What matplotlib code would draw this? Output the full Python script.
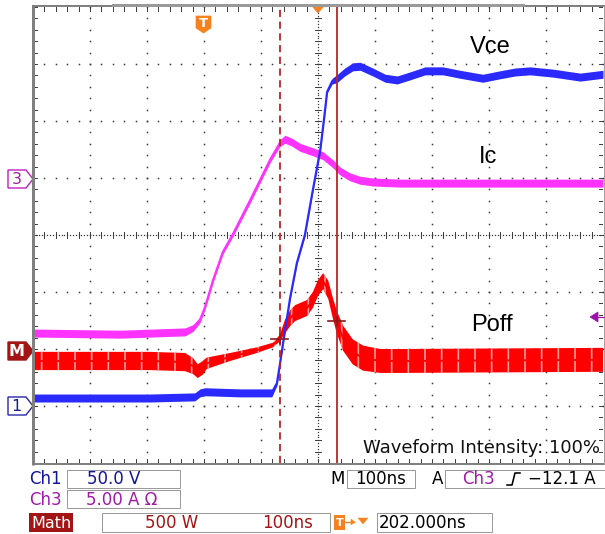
import numpy as np
import matplotlib
matplotlib.use("Agg")
import matplotlib.pyplot as plt
from matplotlib.patches import Polygon, Rectangle

# ---------------- data (screen divisions: x 0..10 div @100 ns/div, y 0..8 div) ----------------
vce_t = [0.00, 1.18, 2.05, 2.84, 2.93, 3.02, 3.63, 4.19, 4.28, 4.33, 4.39, 4.51, 4.63, 4.77,
         4.91, 5.04, 5.11, 5.16, 5.25, 5.33, 5.47, 5.61, 5.74, 5.96, 6.18, 6.39, 6.61, 6.88,
         7.19, 7.49, 7.89, 8.19, 8.46, 8.72, 9.12, 9.60, 10.0]
vce_v = [1.14, 1.14, 1.14, 1.16, 1.23, 1.25, 1.23, 1.23, 1.40, 1.72, 2.12, 2.89, 3.51, 4.00,
         4.79, 5.49, 6.07, 6.51, 6.70, 6.74, 6.86, 6.95, 6.96, 6.86, 6.75, 6.72, 6.79, 6.88,
         6.88, 6.82, 6.75, 6.81, 6.86, 6.88, 6.84, 6.77, 6.82]
vce_n = [0.07, 0.07, 0.07, 0.07, 0.07, 0.07, 0.07, 0.07, 0.04, 0.02, 0.02, 0.02, 0.02, 0.02,
         0.02, 0.02, 0.02, 0.02, 0.05, 0.07, 0.07, 0.07, 0.07, 0.07, 0.07, 0.07, 0.07, 0.07,
         0.07, 0.07, 0.07, 0.07, 0.07, 0.07, 0.07, 0.07, 0.07]

ic_t = [0.00, 1.53, 2.67, 2.81, 2.93, 3.02, 3.16, 3.33, 3.51, 3.81, 4.16, 4.33, 4.42, 4.54,
        4.68, 4.91, 5.09, 5.26, 5.39, 5.56, 5.74, 5.96, 6.44, 10.0]
ic_v = [2.28, 2.26, 2.30, 2.37, 2.51, 2.74, 3.21, 3.70, 4.02, 4.61, 5.32, 5.61, 5.68, 5.63,
        5.54, 5.46, 5.39, 5.25, 5.12, 5.02, 4.96, 4.93, 4.91, 4.91]
ic_n = [0.07, 0.07, 0.07, 0.06, 0.05, 0.04, 0.04, 0.04, 0.04, 0.05, 0.05, 0.06, 0.07, 0.07,
        0.07, 0.07, 0.07, 0.07, 0.07, 0.07, 0.07, 0.07, 0.07, 0.07]

poff_t = [0.00, 1.18, 2.05, 2.67, 2.81, 2.89, 2.98, 3.05, 3.46, 3.93, 4.21, 4.33, 4.42, 4.51,
          4.60, 4.81, 4.91, 5.00, 5.09, 5.18, 5.26, 5.33, 5.44, 5.61, 5.79, 6.09, 6.44, 10.0]
poff_v = [1.79, 1.79, 1.79, 1.77, 1.70, 1.61, 1.67, 1.75, 1.86, 1.98, 2.07, 2.19, 2.39, 2.54,
          2.63, 2.72, 2.86, 3.07, 3.19, 3.04, 2.72, 2.47, 2.19, 1.95, 1.84, 1.79, 1.79, 1.81]
poff_n = [0.16, 0.16, 0.16, 0.16, 0.14, 0.12, 0.12, 0.10, 0.07, 0.05, 0.04, 0.06, 0.12, 0.14,
          0.14, 0.14, 0.14, 0.14, 0.14, 0.16, 0.18, 0.20, 0.22, 0.22, 0.22, 0.21, 0.21, 0.21]

cursor_t = [4.33, 5.33]
cross_t = [4.33, 5.33]
cross_v = [2.18, 2.49]

trace_labels = ["Vce", "Ic", "Poff"]

# ---------------- figure ----------------
W, H = 605, 534
fig = plt.figure(figsize=(W / 100, H / 100), dpi=100)
fig.patch.set_facecolor("white")

L, R, T, B = 33, 603, 7, 463
ax = fig.add_axes([L / W, (H - B) / H, (R - L) / W, (B - T) / H])
ax.set_xlim(0, 10)
ax.set_ylim(0, 8)
ax.axis("off")

GRID = "#3a3a3a"
# major graticule dots
minor = np.arange(0, 8.001, 0.2)
for gx in range(1, 10):
    if gx == 5:
        continue
    ax.plot(np.full_like(minor, gx), minor, "s", ms=1.1, color=GRID, mew=0, zorder=1)
minor_x = np.arange(0, 10.001, 0.2)
for gy in range(1, 8):
    if gy == 4:
        continue
    ax.plot(minor_x, np.full_like(minor_x, gy), "s", ms=1.1, color=GRID, mew=0, zorder=1)
# center lines: dense dots + ticks
dense_y = np.arange(0, 8.001, 0.05)
dense_x = np.arange(0, 10.001, 0.05)
ax.plot(np.full_like(dense_y, 5), dense_y, "s", ms=0.9, color=GRID, mew=0, zorder=1)
ax.plot(dense_x, np.full_like(dense_x, 4), "s", ms=0.9, color=GRID, mew=0, zorder=1)
for yy in minor:
    ax.plot([4.94, 5.06], [yy, yy], color=GRID, lw=0.7, zorder=1)
for xx in minor_x:
    ax.plot([xx, xx], [3.95, 4.05], color=GRID, lw=0.7, zorder=1)
# border ticks
for yy in minor:
    ax.plot([0, 0.07], [yy, yy], color=GRID, lw=0.7, zorder=1)
    ax.plot([9.93, 10], [yy, yy], color=GRID, lw=0.7, zorder=1)
for xx in minor_x:
    ax.plot([xx, xx], [7.93, 8], color=GRID, lw=0.7, zorder=1)
    ax.plot([xx, xx], [0, 0.07], color=GRID, lw=0.7, zorder=1)

# traces
BLUE = "#2a2aff"
MAG = "#ff33ff"
RED = "#ff0000"
plt.rcParams["hatch.linewidth"] = 1.2

t = np.array(ic_t); v = np.array(ic_v); n = np.array(ic_n)
ax.fill_between(t, v - n, v + n, color=MAG, lw=0, zorder=3)
ax.plot(t, v, color=MAG, lw=1.6, zorder=3)

t = np.array(poff_t); v = np.array(poff_v); n = np.array(poff_n)
ax.fill_between(t, v - n, v + n, facecolor=RED, edgecolor="#ff9c9c", hatch="|", lw=0, zorder=3)
ax.plot(t, v, color=RED, lw=1.4, zorder=3)

t = np.array(vce_t); v = np.array(vce_v); n = np.array(vce_n)
ax.fill_between(t, v - n, v + n, color=BLUE, lw=0, zorder=4)
ax.plot(t, v, color=BLUE, lw=1.6, zorder=4)

# cursors
CUR = "#b5262a"
ax.axvline(cursor_t[0], color=CUR, lw=1.3, ls=(0, (4, 2.5)), zorder=5)
ax.axvline(cursor_t[1], color=CUR, lw=1.3, zorder=5)
for cx, cy in zip(cross_t, cross_v):
    ax.plot([cx - 0.15, cx + 0.15], [cy, cy], color="#8b1a1a", lw=1.2, zorder=6)
    ax.plot([cx, cx], [cy - 0.08, cy + 0.08], color="#8b1a1a", lw=1.2, zorder=6)

# trace labels
for lab, (lx, ly) in zip(trace_labels, [(8.02, 7.30), (7.98, 5.37), (8.05, 2.42)]):
    ax.text(lx, ly, lab, fontsize=17, family="Liberation Sans", ha="center", va="center", zorder=7)

# ---------------- overlay in pixel coordinates ----------------
ov = fig.add_axes([0, 0, 1, 1], zorder=10)
ov.set_xlim(0, W)
ov.set_ylim(H, 0)
ov.axis("off")
ov.patch.set_alpha(0)

BORDER = "#808080"
px = 0.72
ov.plot([L, L], [T - 1, B + 2], color=BORDER, lw=3 * px, solid_capstyle="butt")
ov.plot([L, 605], [B + 1, B + 1], color=BORDER, lw=2 * px)
ov.plot([L, 605], [T - 1, T - 1], color=BORDER, lw=2 * px)
ov.plot([113, 523], [T - 2, T - 2], color="#9a9a9a", lw=3 * px)
ov.plot([603.5, 603.5], [T - 1, B + 1], color="#a0a0a0", lw=1 * px)

# trigger T marker
ORANGE = "#f5821f"
ov.add_patch(Polygon([(196, 16), (211, 16), (211, 28), (203.5, 33), (196, 28)], closed=True,
                     fc=ORANGE, ec=ORANGE, lw=0.5))
ov.text(203.5, 23.5, "T", color="white", fontsize=9.5, fontweight="bold", ha="center", va="center",
        family="DejaVu Sans")
ov.add_patch(Polygon([(312, 6), (324, 6), (318, 13)], closed=True, fc=ORANGE, ec=ORANGE, lw=0.5))

# trigger level arrow (right)
PURP = "#9a10a8"
ov.add_patch(Polygon([(590, 317), (598, 312), (598, 322)], closed=True, fc=PURP, ec=PURP, lw=0.5))
ov.plot([597, 605], [317, 317], color=PURP, lw=1.2 * px)

# channel markers on the left
def marker(yc, edge, face, txt, tcol, bold=False):
    pts = [(8, yc - 9), (26, yc - 9), (33, yc), (26, yc + 9), (8, yc + 9)]
    ov.add_patch(Polygon(pts, closed=True, fc=face, ec=edge, lw=1.0))
    ov.text(16.5, yc + 0.5, txt, color=tcol, fontsize=11.5, ha="center", va="center",
            family="DejaVu Sans", fontweight="bold" if bold else "normal")

marker(179, "#c020c0", "white", "3", "#a020a0")
marker(351, "#a31515", "#a31515", "M", "white", bold=True)
marker(406, "#2828a8", "white", "1", "#1a1a8a")

ov.text(600, 448, "Waveform Intensity: 100%", fontsize=13, family="DejaVu Sans",
        ha="right", va="center", color="#111111")

# ---------------- status bar ----------------
BOX = "#9a9a9a"
def box(x0, y0, x1, y1):
    ov.add_patch(Rectangle((x0, y0), x1 - x0, y1 - y0, fc="white", ec=BOX, lw=1.0 * px))

CH1 = "#14149a"
CH3 = "#a01aa8"
MATH = "#a31515"
FS = 12
FAM = "DejaVu Sans"

box(67, 470, 180, 488)
box(67, 490, 180, 508)
box(347, 470, 415, 488)
box(445, 470, 606, 488)
box(102, 513, 330, 532)
box(377, 513, 492, 532)

ov.text(29, 479, "Ch1", color=CH1, fontsize=FS, family=FAM, va="center")
ov.text(87, 479, "50.0 V", color=CH1, fontsize=FS, family=FAM, va="center")
ov.text(29, 500, "Ch3", color=CH3, fontsize=FS, family=FAM, va="center")
ov.text(86, 500, "5.00 A \u03a9", color=CH3, fontsize=FS, family=FAM, va="center")

ov.add_patch(Rectangle((29, 513), 44, 19, fc=MATH, ec=MATH, lw=0))
ov.text(31, 523, "Math", color="white", fontsize=FS - 0.5, family=FAM, va="center")
ov.text(145, 523, "500 W", color=MATH, fontsize=FS, family=FAM, va="center")
ov.text(262, 523, "100ns", color=MATH, fontsize=FS, family=FAM, va="center")

ov.add_patch(Rectangle((334, 515), 11, 15, fc=ORANGE, ec=ORANGE, lw=0))
ov.text(339.5, 522.5, "T", color="white", fontsize=8, fontweight="bold", family=FAM,
        ha="center", va="center")
ov.plot([345, 354], [522, 522], color=ORANGE, lw=1.4 * px)
ov.add_patch(Polygon([(351, 519), (355, 522), (351, 525)], closed=True, fc=ORANGE, ec=ORANGE, lw=0.3))
ov.add_patch(Polygon([(358, 518), (368, 518), (363, 524)], closed=True, fc=ORANGE, ec=ORANGE, lw=0.3))
ov.text(379, 523, "202.000ns", color="black", fontsize=FS, family=FAM, va="center")

ov.text(330, 479, "M", color="black", fontsize=FS, family=FAM, va="center")
ov.text(355, 479, "100ns", color="black", fontsize=FS, family=FAM, va="center")
ov.text(432, 479, "A", color="black", fontsize=FS, family=FAM, va="center")
ov.text(462, 479, "Ch3", color=CH3, fontsize=FS, family=FAM, va="center")
ov.plot([507, 512, 515, 520], [485, 485, 473, 473], color="black", lw=1.6 * px)
ov.text(528, 479, "\u221212.1 A", color="black", fontsize=FS, family=FAM, va="center")

fig.savefig("out.png", dpi=100, facecolor="white")
